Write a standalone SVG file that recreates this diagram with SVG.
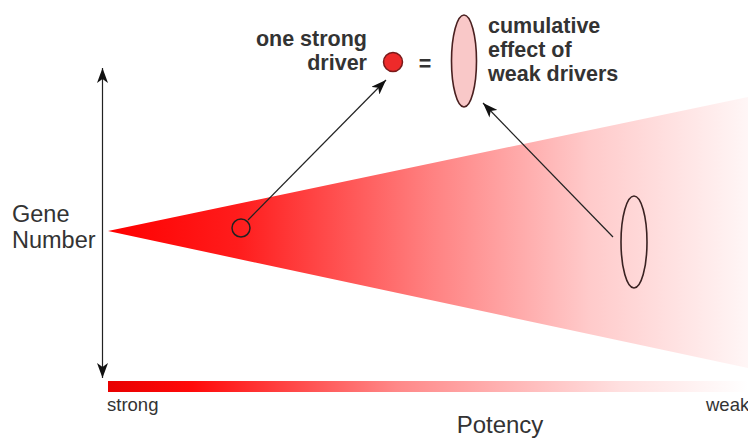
<svg xmlns="http://www.w3.org/2000/svg" width="748" height="439" viewBox="0 0 748 439">
<style>
.lbl{font-family:"Liberation Sans",Arial,sans-serif;fill:#333}
.bold{font-family:"Liberation Sans",Arial,sans-serif;font-weight:bold;fill:#333;font-size:21.5px}
.ln{stroke:#222;stroke-width:1.2;fill:none}
</style>
<defs>
<marker id="ah" viewBox="0 0 15 11" refX="15" refY="5.5" markerWidth="15" markerHeight="11" markerUnits="userSpaceOnUse" orient="auto-start-reverse">
<path d="M0,0 L15,5.5 L0,11 L4,5.5 Z" fill="#111"/>
</marker>
<linearGradient id="cone" gradientUnits="userSpaceOnUse" x1="110" y1="0" x2="748" y2="0">
<stop offset="0" stop-color="#ff0000"/>
<stop offset="0.2" stop-color="#ff1c1c"/>
<stop offset="0.5" stop-color="#ff8080"/>
<stop offset="0.75" stop-color="#ffcaca"/>
<stop offset="1" stop-color="#fff6f6"/>
</linearGradient>
<linearGradient id="bar" gradientUnits="userSpaceOnUse" x1="108" y1="0" x2="748" y2="0">
<stop offset="0" stop-color="#e80000"/>
<stop offset="0.13" stop-color="#ff0a0a"/>
<stop offset="0.45" stop-color="#ff8888"/>
<stop offset="0.8" stop-color="#ffe0e0"/>
<stop offset="1" stop-color="#ffffff"/>
</linearGradient>
</defs>
<g id="cone-shape">
<polygon points="108,231 748,97 748,368" fill="url(#cone)"/>
</g>
<g id="potency-bar">
<rect x="108" y="381" width="640" height="11" fill="url(#bar)"/>
<text class="lbl" x="107" y="411" font-size="18.5">strong</text>
<text class="lbl" x="706" y="411" font-size="18.5">weak</text>
<text class="lbl" x="500" y="433" font-size="24" text-anchor="middle">Potency</text>
</g>
<g id="gene-number">
<text class="lbl" x="12" y="222" font-size="23.5">Gene</text>
<text class="lbl" x="12" y="248" font-size="23.5">Number</text>
</g>
<g id="strong-gene">
<circle cx="241" cy="228" r="9" fill="none" stroke="#222" stroke-width="1.5"/>
</g>
<g id="weak-genes">
<ellipse cx="634" cy="242" rx="13" ry="46" fill="none" stroke="#3a2222" stroke-width="1.6"/>
</g>
<g id="one-strong-driver">
<text class="bold" x="367" y="46" text-anchor="end">one strong</text>
<text class="bold" x="367" y="70" text-anchor="end">driver</text>
<circle cx="393" cy="62" r="9.5" fill="#ee2a2a" stroke="#7a1a1a" stroke-width="1.5"/>
<text class="bold" x="425" y="71" text-anchor="middle" font-size="26">=</text>
</g>
<g id="cumulative-effect">
<ellipse cx="464" cy="61" rx="12.5" ry="46" fill="#f9c8c8" stroke="#4a2020" stroke-width="1.6"/>
<text class="bold" x="488" y="33">cumulative</text>
<text class="bold" x="488" y="57">effect of</text>
<text class="bold" x="488" y="81">weak drivers</text>
</g>
<g id="connectors">
<line class="ln" x1="102.5" y1="68" x2="102.5" y2="378" marker-start="url(#ah)" marker-end="url(#ah)"/>
<line class="ln" x1="248" y1="220" x2="386" y2="80" marker-end="url(#ah)"/>
<line class="ln" x1="613" y1="237" x2="483" y2="103" marker-end="url(#ah)"/>
</g>
</svg>
